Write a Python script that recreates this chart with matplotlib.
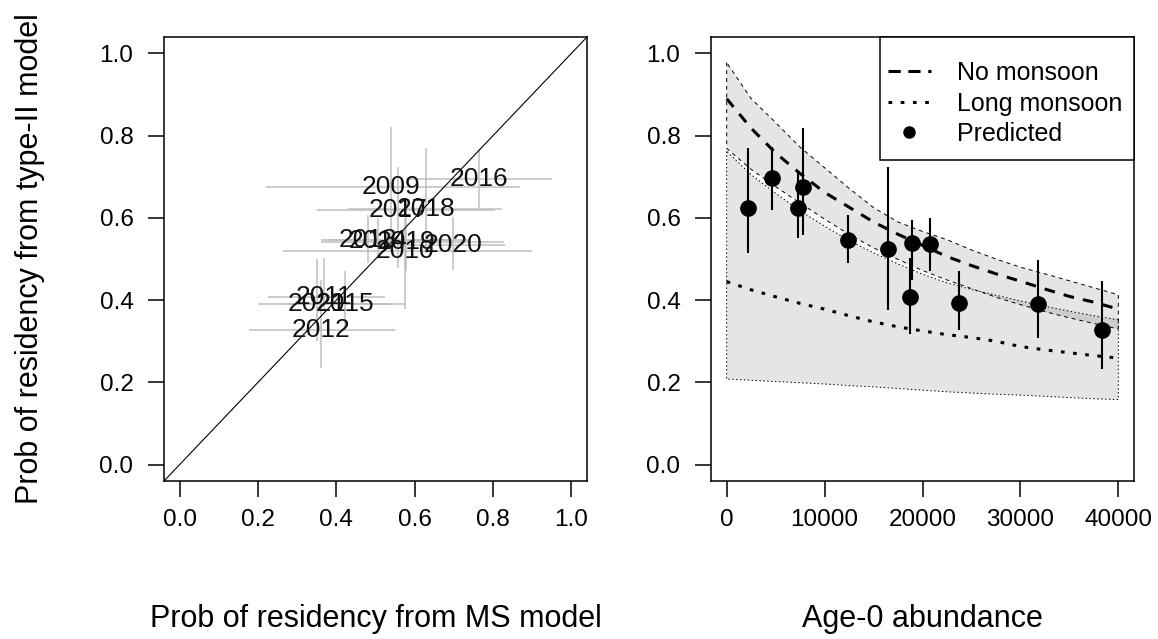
import matplotlib
matplotlib.use("Agg")
import matplotlib.pyplot as plt
from matplotlib.lines import Line2D
from matplotlib.patches import Rectangle
import numpy as np

plt.rcParams['font.family'] = ['Liberation Sans', 'DejaVu Sans']

# ---------------- Left panel data ----------------
years = ["2009", "2010", "2011", "2012", "2013", "2014", "2015",
         "2016", "2017", "2018", "2019", "2020", "2021"]
ms_est = [0.540, 0.575, 0.368, 0.362, 0.480, 0.506, 0.422, 0.765, 0.557, 0.628, 0.578, 0.697, 0.350]
ms_lo = [0.220, 0.265, 0.226, 0.178, 0.360, 0.380, 0.270, 0.580, 0.350, 0.430, 0.362, 0.520, 0.201]
ms_hi = [0.870, 0.899, 0.523, 0.549, 0.700, 0.740, 0.540, 0.950, 0.806, 0.824, 0.829, 0.830, 0.579]
t2_est = [0.675, 0.520, 0.407, 0.328, 0.547, 0.545, 0.390, 0.695, 0.618, 0.621, 0.542, 0.535, 0.391]
t2_lo = [0.520, 0.378, 0.378, 0.235, 0.490, 0.500, 0.328, 0.623, 0.478, 0.515, 0.470, 0.474, 0.300]
t2_hi = [0.820, 0.600, 0.502, 0.450, 0.607, 0.600, 0.470, 0.767, 0.725, 0.771, 0.610, 0.603, 0.500]

prob_ticks = [0.0, 0.2, 0.4, 0.6, 0.8, 1.0]
prob_tick_labels = ["0.0", "0.2", "0.4", "0.6", "0.8", "1.0"]

# ---------------- Right panel data ----------------
abund_grid = [0, 2500, 5000, 7500, 10000, 12500, 15000, 17500, 20000,
              22500, 25000, 27500, 30000, 32500, 35000, 37500, 40000]
nm_mean = [0.890, 0.818, 0.758, 0.708, 0.662, 0.626, 0.590, 0.560, 0.533,
           0.506, 0.484, 0.464, 0.446, 0.427, 0.409, 0.395, 0.378]
nm_hi = [0.978, 0.890, 0.832, 0.772, 0.722, 0.672, 0.625, 0.590, 0.567,
         0.547, 0.522, 0.500, 0.480, 0.464, 0.447, 0.430, 0.413]
nm_lo = [0.769, 0.718, 0.676, 0.636, 0.597, 0.560, 0.527, 0.499, 0.472,
         0.449, 0.428, 0.407, 0.389, 0.372, 0.357, 0.343, 0.330]
lm_mean = [0.445, 0.425, 0.408, 0.392, 0.378, 0.362, 0.347, 0.335, 0.325,
           0.316, 0.309, 0.300, 0.287, 0.279, 0.272, 0.265, 0.259]
lm_hi = [0.762, 0.705, 0.660, 0.617, 0.580, 0.545, 0.515, 0.488, 0.463,
         0.442, 0.426, 0.412, 0.398, 0.385, 0.373, 0.362, 0.352]
lm_lo = [0.208, 0.205, 0.202, 0.199, 0.196, 0.192, 0.189, 0.185, 0.181,
         0.177, 0.174, 0.171, 0.169, 0.166, 0.163, 0.160, 0.158]

obs_abund = [2170, 4660, 7290, 7800, 12400, 16500, 18950, 18750, 20760, 23730, 31750, 38360]
obs_pred = [0.623, 0.696, 0.623, 0.676, 0.547, 0.525, 0.538, 0.407, 0.536, 0.394, 0.390, 0.328]
obs_lo = [0.514, 0.619, 0.551, 0.559, 0.490, 0.376, 0.450, 0.318, 0.470, 0.328, 0.308, 0.233]
obs_hi = [0.769, 0.773, 0.712, 0.818, 0.607, 0.725, 0.595, 0.502, 0.599, 0.470, 0.498, 0.447]

abund_ticks = [0, 10000, 20000, 30000, 40000]
abund_tick_labels = ["0", "10000", "20000", "30000", "40000"]
legend_labels = ["No monsoon", "Long monsoon", "Predicted"]

# ---------------- Figure ----------------
W, H = 1158, 639
fig = plt.figure(figsize=(W / 100, H / 100), dpi=100)

AX_L = (164, 37, 587, 481)
AX_R = (711, 37, 1134, 481)


def px_axes(l, t, r, b):
    return [l / W, 1 - b / H, (r - l) / W, (b - t) / H]


ax1 = fig.add_axes(px_axes(*AX_L))
ax2 = fig.add_axes(px_axes(*AX_R))

TICK_FS = 17.5
LAB_FS = 22

for ax in (ax1, ax2):
    for s in ax.spines.values():
        s.set_linewidth(1.1)
        s.set_color('black')
    ax.tick_params(direction='out', length=11.5, width=1.1, labelsize=TICK_FS,
                   color='black')
    ax.tick_params(axis='y', pad=10.5)
    ax.tick_params(axis='x', pad=9)
    ax.set_ylim(-0.04, 1.04)
    ax.set_yticks(prob_ticks)
    ax.set_yticklabels(prob_tick_labels)

# Left panel
ax1.hlines(t2_est, ms_lo, ms_hi, color='#BEBEBE', lw=1.1)
ax1.vlines(ms_est, t2_lo, t2_hi, color='#BEBEBE', lw=1.1)
for yr, xv, yv in zip(years, ms_est, t2_est):
    ax1.text(xv, yv, yr, ha='center', va='center', fontsize=19, color='#111111')
ax1.axline((0, 0), (1, 1), color='black', lw=0.8)
ax1.set_xlim(-0.04, 1.04)
ax1.set_xticks(prob_ticks)
ax1.set_xticklabels(prob_tick_labels)
ax1.set_xlabel("Prob of residency from MS model", fontsize=LAB_FS, va='center')
ax1.xaxis.set_label_coords(0.5, (481 - 619) / 444)
ax1.set_ylabel("Prob of residency from type-II model", fontsize=LAB_FS, va='center')
ax1.yaxis.set_label_coords((30 - 164) / 423, 0.5)

# Right panel
ax2.fill_between(abund_grid, nm_lo, nm_hi, facecolor=(0, 0, 0, 0.1),
                 edgecolor='black', linestyle=(0, (4, 4)), linewidth=0.7)
ax2.fill_between(abund_grid, lm_lo, lm_hi, facecolor=(0, 0, 0, 0.1),
                 edgecolor='black', linestyle=(0, (1.5, 2.5)), linewidth=0.7)
ax2.plot(abund_grid, nm_mean, color='black', lw=2.2, linestyle=(0, (3.5, 3)))
ax2.plot(abund_grid, lm_mean, color='black', lw=2.2, linestyle=(0, (1.2, 2.8)))
ax2.vlines(obs_abund, obs_lo, obs_hi, color='black', lw=1.5)
ax2.plot(obs_abund, obs_pred, 'o', color='black', ms=11, ls='none')
ax2.set_xlim(-1600, 41600)
ax2.set_xticks(abund_ticks)
ax2.set_xticklabels(abund_tick_labels)
ax2.set_xlabel("Age-0 abundance", fontsize=LAB_FS, va='center')
ax2.xaxis.set_label_coords(0.5, (481 - 619) / 444)

# Legend: frame drawn as a box, entries placed inside it
axw = AX_R[2] - AX_R[0]
axh = AX_R[3] - AX_R[1]
box_l, box_t, box_r, box_b = 880, 37, 1134, 160
ax2.add_patch(Rectangle(((box_l - AX_R[0]) / axw, (AX_R[3] - box_b) / axh),
                        (box_r - box_l) / axw, (box_b - box_t) / axh,
                        transform=ax2.transAxes, facecolor='white',
                        edgecolor='black', linewidth=1.1, zorder=5,
                        clip_on=False))
handles = [
    Line2D([], [], color='black', lw=2.2, linestyle=(0, (4, 2.5))),
    Line2D([], [], color='black', lw=2.2, linestyle=(0, (1.2, 2.8))),
    Line2D([], [], color='black', marker='o', ls='none', ms=8),
]
leg = ax2.legend(handles, legend_labels, loc='upper left',
                 bbox_to_anchor=((888 - AX_R[0]) / axw, (AX_R[3] - 61) / axh),
                 fontsize=18, frameon=False, borderaxespad=0, borderpad=0,
                 handlelength=1.7, handletextpad=1.05, labelspacing=0.26)
leg.set_zorder(6)

fig.savefig("out.png", dpi=100)
